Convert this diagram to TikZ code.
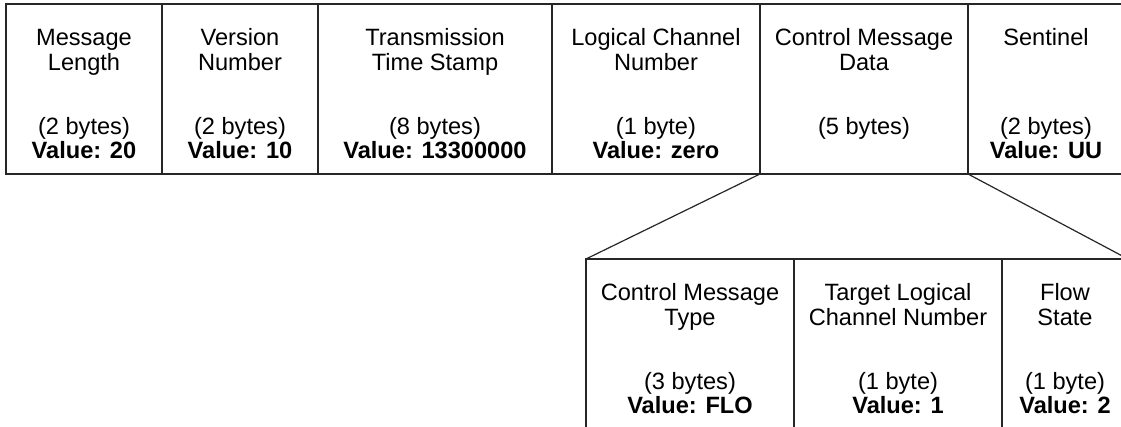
\documentclass[tikz,border=0pt]{standalone}
\usepackage{fontspec}
\setmainfont{Liberation Sans}
\usetikzlibrary{positioning}
\newcommand{\fieldtext}[4]{\rule{0pt}{16pt}#1\\#2\\[19.5pt]#3\\[-0.5pt]\textbf{#4}\rule[-3pt]{0pt}{3pt}}

\begin{document}
\begin{tikzpicture}[
    x=0.5pt, y=-0.5pt,
    every node/.style={font=\fontsize{11.8}{12.5}\selectfont},
    field/.style ={draw=black!85, line width=0.6pt, rectangle, align=center,
                   outer sep=0pt, inner sep=0pt, minimum height=85pt},
    twobyte/.style ={field, minimum width=78pt},
    wide/.style    ={field, minimum width=104pt},
    split/.style   ={draw=black!85, line width=0.6pt},
]
\useasboundingbox (0,0) rectangle (1121,427);
\clip (0,0) rectangle (1121,427);
\node[twobyte, anchor=north west] (len) at (6,4)
   {\fieldtext{Message}{Length}{(2 bytes)}{Value: 20}};
\node[twobyte, right=0pt of len] (ver)
   {\fieldtext{Version}{Number}{(2 bytes)}{Value: 10}};
\node[field, minimum width=117pt, right=0pt of ver] (stamp)
   {\fieldtext{Transmission}{Time Stamp}{(8 bytes)}{Value: 13300000}};
\node[wide, right=0pt of stamp] (lcn)
   {\fieldtext{Logical Channel}{Number}{(1 byte)}{Value: zero}};
\node[wide, right=0pt of lcn] (cmd)
   {\fieldtext{Control Message}{Data}{(5 bytes)}{}};
\node[twobyte, right=0pt of cmd] (sent)
   {\fieldtext{Sentinel}{}{(2 bytes)}{Value: UU}};
\node[wide, anchor=north west] (cmtype) at (586,259)
   {\fieldtext{Control Message}{Type}{(3 bytes)}{Value: FLO}};
\node[wide, right=0pt of cmtype] (target)
   {\fieldtext{Target Logical}{Channel Number}{(1 byte)}{Value: 1}};
\node[field, minimum width=63pt, right=0pt of target] (flow)
   {\fieldtext{Flow}{State}{(1 byte)}{Value: 2}};
\draw[split] (cmd.south west) -- (cmtype.north west);
\draw[split] (cmd.south east) -- (flow.north east);
\end{tikzpicture}
\end{document}
